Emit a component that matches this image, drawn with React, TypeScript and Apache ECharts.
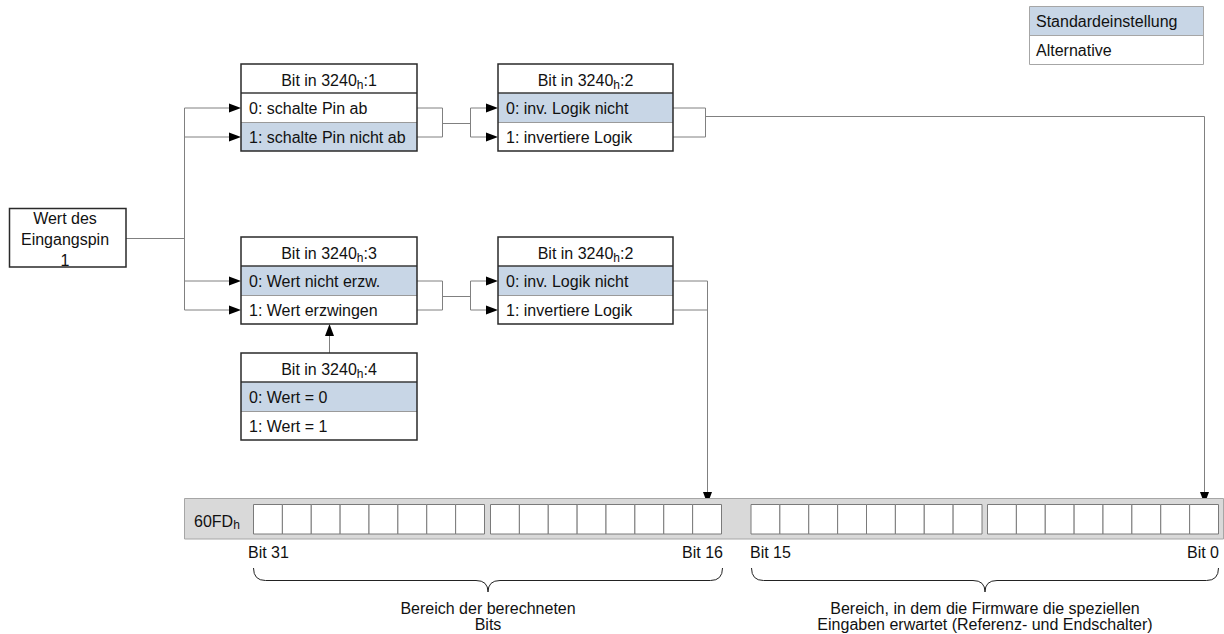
import React, { useEffect, useRef } from "react";
import * as echarts from "echarts";

// ---- content ----
const inputLabel = ["Wert des", "Eingangspin", "1"];
const objectIndex = "3240";
const boxSubIndex = ["1", "2", "3", "2", "4"];
const boxRows = [
  ["0: schalte Pin ab", "1: schalte Pin nicht ab"],
  ["0: inv. Logik nicht", "1: invertiere Logik"],
  ["0: Wert nicht erzw.", "1: Wert erzwingen"],
  ["0: inv. Logik nicht", "1: invertiere Logik"],
  ["0: Wert = 0", "1: Wert = 1"],
];
const defaultRow = [1, 0, 0, 0, 0];
const legendItems = ["Standardeinstellung", "Alternative"];
const registerName = "60FD";
const bitGroups = [8, 8, 8, 8];
const bitLabels = ["Bit 31", "Bit 16", "Bit 15", "Bit 0"];
const rangeTexts = [
  ["Bereich der berechneten", "Bits"],
  ["Bereich, in dem die Firmware die speziellen", "Eingaben erwartet (Referenz- und Endschalter)"],
];

// ---- layout / style ----
const FONT = '"Liberation Sans", Arial, Helvetica, sans-serif';
const FS = 16;
const TXT = "#111111";
const LINE = "#808080";
const BORDER = "#2a2a2a";
const BLUE = "#c8d6e6";
const ROW = 29;
const boxPos = [
  [241, 64, 176],
  [498, 64, 175],
  [241, 237, 176],
  [498, 237, 175],
  [241, 353, 176],
];

function buildElements() {
  const els: any[] = [];
  const line = (pts: number[][], color = LINE, w = 1) =>
    els.push({ type: "polyline", silent: true, shape: { points: pts }, style: { stroke: color, lineWidth: w, fill: null } });
  const tri = (pts: number[][]) => els.push({ type: "polygon", silent: true, shape: { points: pts }, style: { fill: "#000" } });
  const arrowR = (x: number, y: number) => tri([[x - 12, y - 4.5], [x, y], [x - 12, y + 4.5]]);
  const arrowD = (x: number, y: number) => tri([[x - 4.5, y - 12], [x, y], [x + 4.5, y - 12]]);
  const arrowU = (x: number, y: number) => tri([[x - 4.5, y + 12], [x, y], [x + 4.5, y + 12]]);
  const rect = (x: number, y: number, w: number, h: number, fill: any, stroke: any, lw = 1) =>
    els.push({ type: "rect", silent: true, shape: { x, y, width: w, height: h }, style: { fill, stroke, lineWidth: lw } });
  const text = (x: number, y: number, t: string, align = "left", extra: any = {}) =>
    els.push({
      type: "text",
      silent: true,
      x,
      y,
      style: { text: t, fontFamily: FONT, fontSize: FS, fill: TXT, align, verticalAlign: "middle", ...extra },
    });
  const subText = (x: number, y: number, main: string, sub: string, tail: string, align: string) =>
    els.push({
      type: "text",
      silent: true,
      x,
      y,
      style: {
        text: `{a|${main}}{s|${sub}}` + (tail ? `{a|${tail}}` : ""),
        fill: TXT,
        align,
        verticalAlign: "middle",
        rich: {
          a: { fontFamily: FONT, fontSize: FS, fill: TXT, color: TXT, lineHeight: 20 },
          s: { fontFamily: FONT, fontSize: 12, fill: TXT, color: TXT, lineHeight: 11, verticalAlign: "bottom" },
        },
      },
    });

  const rowY = (b: number, r: number) => boxPos[b][1] + ROW * (r + 1) + ROW / 2 + 0.5;

  // ---- connectors ----
  line([[126, 238.5], [184.5, 238.5]]);
  line([[184.5, rowY(0, 0)], [184.5, rowY(2, 1)]]);
  [rowY(0, 0), rowY(0, 1), rowY(2, 0), rowY(2, 1)].forEach((y) => {
    line([[184.5, y], [235, y]]);
    arrowR(241, y);
  });
  [[0, 1], [2, 3]].forEach(([a, b]) => {
    const y0 = rowY(a, 0), y1 = rowY(a, 1), ym = Math.round((y0 + y1) / 2) + 0.5;
    const xr = boxPos[a][0] + boxPos[a][2];
    line([[xr, y0], [442.5, y0], [442.5, y1], [xr, y1]]);
    line([[442.5, ym], [470.5, ym]]);
    line([[boxPos[b][0] - 6, y0], [470.5, y0], [470.5, y1], [boxPos[b][0] - 6, y1]]);
    arrowR(boxPos[b][0], y0);
    arrowR(boxPos[b][0], y1);
  });
  {
    const y0 = rowY(1, 0), y1 = rowY(1, 1);
    line([[673, y0], [705.5, y0], [705.5, y1], [673, y1]]);
    line([[705.5, 116.5], [1204.5, 116.5], [1204.5, 496]]);
    arrowD(1204.5, 504);
  }
  {
    const y0 = rowY(3, 0), y1 = rowY(3, 1);
    line([[673, y0], [707.5, y0], [707.5, 496]]);
    line([[673, y1], [707.5, y1]]);
    arrowD(707.5, 504);
  }
  line([[329.5, 353], [329.5, 330]]);
  arrowU(329.5, 324);

  // ---- input box ----
  rect(9.5, 208.5, 116.5, 58.5, "#fff", BORDER, 1.5);
  inputLabel.forEach((t, i) => text(65, 218 + i * 21, t, "center"));

  // ---- setting boxes ----
  boxPos.forEach(([x, y, w], b) => {
    rect(x, y, w, ROW, "#fff", null);
    boxRows[b].forEach((_, r) => rect(x, y + ROW * (r + 1), w, ROW, r === defaultRow[b] ? BLUE : "#fff", null));
    line([[x, y + ROW], [x + w, y + ROW]], "#3a3a3a", 1.5);
    line([[x, y + 2 * ROW + 0.5], [x + w, y + 2 * ROW + 0.5]], "#9a9a9a", 1);
    rect(x, y, w, ROW * 3, null, BORDER, 1.5);
    subText(x + w / 2, y + ROW / 2 + 2, `Bit in ${objectIndex}`, "h", `:${boxSubIndex[b]}`, "center");
    boxRows[b].forEach((t, r) => text(x + 8, y + ROW * (r + 1) + ROW / 2 + 0.5, t));
  });

  // ---- legend ----
  rect(1029.5, 6.5, 174, 29, BLUE, null);
  rect(1029.5, 35.5, 174, 29, "#fff", null);
  line([[1029.5, 35.5], [1203.5, 35.5]], "#a6a6a6", 1);
  rect(1029.5, 6.5, 174, 58, null, "#a6a6a6", 1);
  legendItems.forEach((t, i) => text(1036, 21 + i * 29, t));

  // ---- register ----
  rect(184.5, 498.5, 1039, 40.5, "#d9d9d9", "#a6a6a6", 1);
  subText(194, 521, registerName, "h", "", "left");
  const groupX = [253.5, 490.5, 751, 987.5];
  const cw = 28.875;
  bitGroups.forEach((n, g) => {
    for (let i = 0; i < n; i++) rect(groupX[g] + i * cw, 504.5, cw, 29.5, "#fff", "#7a7a7a", 1);
  });
  text(248, 552, bitLabels[0], "left");
  text(723, 552, bitLabels[1], "right");
  text(750, 552, bitLabels[2], "left");
  text(1219, 552, bitLabels[3], "right");

  // ---- braces ----
  const brace = (x0: number, x1: number) => {
    const cx = (x0 + x1) / 2, yT = 568, yM = 580.5, yB = 592;
    const st = { stroke: "#222", lineWidth: 1, fill: null };
    const q = (a: number, b: number, c: number, d: number, e: number, f: number) =>
      els.push({ type: "bezierCurve", silent: true, shape: { x1: a, y1: b, cpx1: c, cpy1: d, x2: e, y2: f }, style: st });
    q(x0, yT, x0, yM, x0 + 12, yM);
    line([[x0 + 12, yM], [cx - 12, yM]], "#222", 1);
    q(cx - 12, yM, cx, yM, cx, yB);
    q(cx, yB, cx, yM, cx + 12, yM);
    line([[cx + 12, yM], [x1 - 12, yM]], "#222", 1);
    q(x1 - 12, yM, x1, yM, x1, yT);
    return cx;
  };
  const c1 = brace(253.5, 722.5);
  const c2 = brace(751.5, 1218.5);
  rangeTexts[0].forEach((t, i) => text(c1, 608 + i * 16, t, "center"));
  rangeTexts[1].forEach((t, i) => text(c2, 608 + i * 16, t, "center"));

  return els;
}

export default function App() {
  const ref = useRef<HTMLDivElement>(null);
  useEffect(() => {
    if (!ref.current) return;
    const chart = echarts.init(ref.current, null, { renderer: "svg" });
    chart.setOption({
      animation: false,
      backgroundColor: "#ffffff",
      graphic: { elements: buildElements() },
    });
    return () => chart.dispose();
  }, []);
  return (
    <div
      ref={ref}
      style={{ position: "fixed", left: 0, top: 0, width: 1224, height: 634, background: "#fff" }}
    />
  );
}
